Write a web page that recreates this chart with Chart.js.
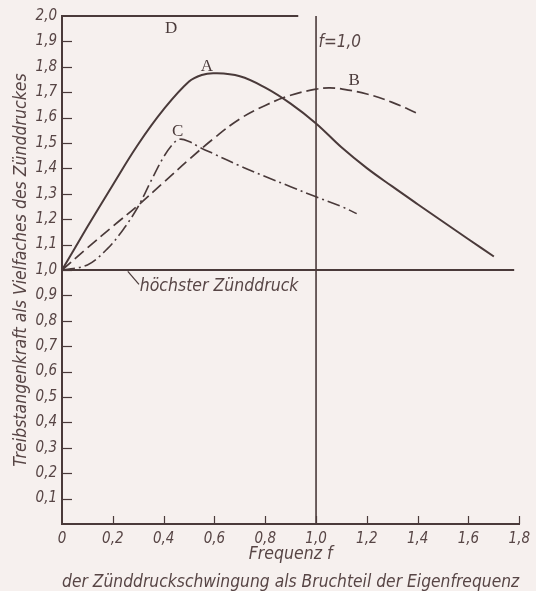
<!DOCTYPE html>
<html><head><meta charset="utf-8">
<script src="https://cdn.jsdelivr.net/npm/chart.js@4/dist/chart.umd.min.js"></script>
<style>
html,body{margin:0;padding:0;background:#f6f0ee;}
#wrap{width:536px;height:591px;}
</style>
</head><body>
<div id="wrap"><canvas id="c" width="536" height="591"></canvas></div>
<script>
// ---- data ----
const aX = [0, 0.1, 0.2, 0.3, 0.4, 0.5, 0.55, 0.6, 0.7, 0.8, 0.9, 1.0, 1.1, 1.2, 1.3, 1.4, 1.5, 1.6, 1.7];
const aY = [1.0, 1.17, 1.335, 1.495, 1.632, 1.742, 1.768, 1.775, 1.763, 1.718, 1.655, 1.577, 1.483, 1.401, 1.329, 1.259, 1.19, 1.121, 1.053];

const bX = [0, 0.1, 0.2, 0.3, 0.4, 0.5, 0.6, 0.7, 0.8, 0.9, 1.0, 1.05, 1.1, 1.2, 1.3, 1.4];
const bY = [1.0, 1.087, 1.172, 1.255, 1.345, 1.435, 1.52, 1.595, 1.648, 1.688, 1.712, 1.717, 1.713, 1.693, 1.66, 1.616];

const cX = [0, 0.1, 0.18, 0.245, 0.3, 0.35, 0.4, 0.44, 0.465, 0.5, 0.54, 0.6, 0.7, 0.8, 0.9, 1.0, 1.1, 1.16];
const cY = [1.0, 1.02, 1.085, 1.165, 1.25, 1.35, 1.445, 1.5, 1.515, 1.506, 1.484, 1.456, 1.41, 1.368, 1.328, 1.288, 1.25, 1.222];

const ignX = [0, 1.78];          // "höchster Zünddruck" line
const ignY = [1.0, 1.0];
const dX = [0, 0.93];            // curve D
const dY = [2.0, 2.0];
const fX = [1.0, 1.0];           // f = 1,0
const fY = [0, 2.0];

const xTickValues = [0, 0.2, 0.4, 0.6, 0.8, 1.0, 1.2, 1.4, 1.6, 1.8];
const xTickLabels = ['0', '0,2', '0,4', '0,6', '0,8', '1,0', '1,2', '1,4', '1,6', '1,8'];
const yTickValues = [0.1, 0.2, 0.3, 0.4, 0.5, 0.6, 0.7, 0.8, 0.9, 1.0, 1.1, 1.2, 1.3, 1.4, 1.5, 1.6, 1.7, 1.8, 1.9, 2.0];
const yTickLabels = ['0,1', '0,2', '0,3', '0,4', '0,5', '0,6', '0,7', '0,8', '0,9', '1,0', '1,1', '1,2', '1,3', '1,4', '1,5', '1,6', '1,7', '1,8', '1,9', '2,0'];

const noteText = ['A', 'B', 'C', 'D', 'f=1,0', 'höchster Zünddruck'];
const noteX = [0.57, 1.15, 0.455, 0.43, 1.01, 0.306];
const noteY = [1.80, 1.745, 1.545, 1.95, 1.894, 0.937];

const yTitle = 'Treibstangenkraft als Vielfaches des Zünddruckes';
const xTitle = ['Frequenz f', 'der Zünddruckschwingung als Bruchteil der Eigenfrequenz'];

// ---- styling ----
const ink = '#4a3a3a';
const txt = '#574545';
const sans = "'DejaVu Sans Condensed', 'Liberation Sans Narrow', 'DejaVu Sans', sans-serif";
const serif = "'Liberation Serif', 'DejaVu Serif', serif";

const pts = (xs, ys) => xs.map((x, i) => ({x: x, y: ys[i]}));
const labelFor = (vals, labs, v) => {
  const i = vals.findIndex(t => Math.abs(t - v) < 1e-6);
  return i < 0 ? '' : labs[i];
};

const bg = {
  id: 'bg',
  beforeDraw(chart) {
    const c = chart.ctx;
    c.save(); c.fillStyle = '#f6f0ee'; c.fillRect(0, 0, chart.width, chart.height); c.restore();
  }
};

const extras = {
  id: 'extras',
  afterDraw(chart) {
    const c = chart.ctx, xs = chart.scales.x, ys = chart.scales.y;
    c.save();
    c.strokeStyle = ink; c.lineWidth = 1.2;
    yTickValues.forEach(v => {
      if (v >= 2) return;
      const y = Math.round(ys.getPixelForValue(v)) + 0.5;
      c.beginPath(); c.moveTo(xs.left, y); c.lineTo(xs.left + 10, y); c.stroke();
    });
    xTickValues.forEach(v => {
      if (v <= 0) return;
      const x = Math.round(xs.getPixelForValue(v)) + 0.5;
      c.beginPath(); c.moveTo(x, ys.bottom); c.lineTo(x, ys.bottom - 8); c.stroke();
    });
    // leader line from the 1,0 line to its note
    c.beginPath();
    c.moveTo(xs.getPixelForValue(0.259), ys.getPixelForValue(0.995));
    c.lineTo(xs.getPixelForValue(0.303), ys.getPixelForValue(0.943));
    c.stroke();
    // notes
    c.textBaseline = 'middle';
    noteText.forEach((t, i) => {
      const x = xs.getPixelForValue(noteX[i]), y = ys.getPixelForValue(noteY[i]);
      if (t.length === 1) {
        c.font = '17px ' + serif; c.textAlign = 'center'; c.fillStyle = ink;
      } else if (t.startsWith('f')) {
        c.font = 'italic 17px ' + sans; c.textAlign = 'left'; c.fillStyle = txt;
      } else {
        c.font = 'italic 17.5px ' + sans; c.textAlign = 'left'; c.fillStyle = txt;
      }
      c.fillText(t, x, y);
    });
    c.restore();
  }
};

new Chart(document.getElementById('c'), {
  type: 'line',
  data: {
    datasets: [
      {data: pts(aX, aY), borderColor: ink, borderWidth: 2, tension: 0.4, pointRadius: 0, fill: false},
      {data: pts(bX, bY), borderColor: ink, borderWidth: 1.7, borderDash: [12, 5], tension: 0.4, pointRadius: 0, fill: false},
      {data: pts(cX, cY), borderColor: ink, borderWidth: 1.6, borderDash: [13, 4, 2, 4], tension: 0.35, pointRadius: 0, fill: false},
      {data: pts(ignX, ignY), borderColor: ink, borderWidth: 1.8, pointRadius: 0, fill: false, clip: false},
      {data: pts(dX, dY), borderColor: ink, borderWidth: 2, pointRadius: 0, fill: false, clip: false},
      {data: pts(fX, fY), borderColor: ink, borderWidth: 1.6, pointRadius: 0, fill: false, clip: false}
    ]
  },
  options: {
    responsive: false,
    animation: false,
    events: [],
    layout: {padding: {left: 0, right: 15, top: 16, bottom: 0}},
    plugins: {legend: {display: false}, tooltip: {enabled: false}},
    scales: {
      x: {
        type: 'linear', min: 0, max: 1.8,
        grid: {display: false, drawTicks: false},
        border: {display: true, color: ink, width: 2},
        ticks: {
          stepSize: 0.2, autoSkip: false, maxRotation: 0, padding: 6, color: txt,
          font: {family: sans, size: 15, style: 'italic'},
          callback: v => labelFor(xTickValues, xTickLabels, v)
        },
        title: {
          display: true, text: xTitle, color: txt,
          font: {family: sans, size: 17.5, style: 'italic', lineHeight: 1.6},
          padding: {top: 0, bottom: -5.5}
        },
        afterFit: s => { s.height = 67; }
      },
      y: {
        type: 'linear', min: 0, max: 2.0,
        grid: {display: false, drawTicks: false},
        border: {display: true, color: ink, width: 2},
        ticks: {
          stepSize: 0.1, autoSkip: false, padding: 5, color: txt,
          font: {family: sans, size: 15, style: 'italic'},
          callback: v => labelFor(yTickValues, yTickLabels, v)
        },
        title: {
          display: true, text: yTitle, color: txt,
          font: {family: sans, size: 17.5, style: 'italic', lineHeight: 1.2},
          padding: {top: 11, bottom: 0}
        },
        afterFit: s => { s.width = 62; }
      }
    }
  },
  plugins: [bg, extras]
});
</script>
</body></html>
